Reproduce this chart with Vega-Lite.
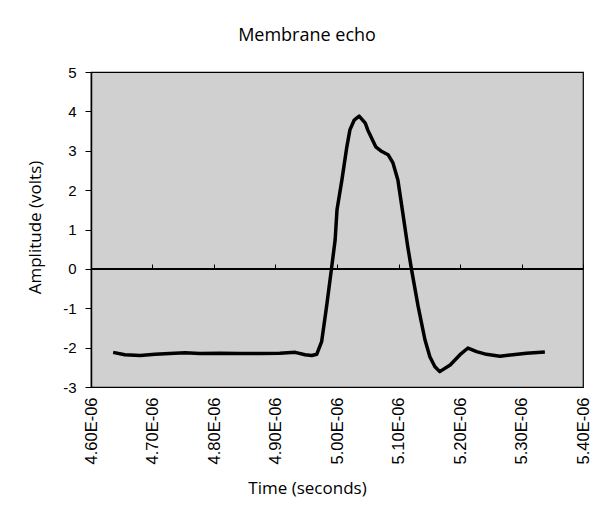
{
  "$schema": "https://vega.github.io/schema/vega-lite/v6.json",
  "width": 492,
  "height": 315,
  "autosize": {"type": "none"},
  "padding": {"left": 91, "top": 72, "right": 25, "bottom": 127},
  "background": "white",
  "title": {
    "text": "Membrane echo",
    "font": "Open Sans",
    "fontSize": 18,
    "fontWeight": "normal",
    "color": "black",
    "frame": "group",
    "anchor": "middle",
    "baseline": "alphabetic",
    "offset": 6,
    "dx": -30
  },
  "config": {
    "view": {"stroke": "black", "strokeWidth": 1.2, "fill": "#d0d0d0"},
    "axis": {"grid": false},
    "axisY": {
      "values": [-3, -2, -1, 0, 1, 2, 3, 4, 5],
      "labelExpr": "'' + datum.value",
      "labelOverlap": false,
      "labelFont": "Liberation Sans",
      "labelFontSize": 15,
      "labelColor": "black",
      "labelPadding": 9,
      "tickSize": 6,
      "tickColor": "black",
      "domainColor": "black",
      "domainWidth": 1.5,
      "titleFont": "Open Sans",
      "titleFontSize": 17,
      "titleFontWeight": "normal",
      "titleColor": "black",
      "titleX": -51,
      "titleY": 155,
      "titleBaseline": "alphabetic"
    }
  },
  "data": {
    "values": [
      {"time": 4.636e-6, "amplitude": -2.12},
      {"time": 4.655e-6, "amplitude": -2.18},
      {"time": 4.680e-6, "amplitude": -2.2},
      {"time": 4.704e-6, "amplitude": -2.17},
      {"time": 4.728e-6, "amplitude": -2.15},
      {"time": 4.753e-6, "amplitude": -2.13},
      {"time": 4.777e-6, "amplitude": -2.15},
      {"time": 4.810e-6, "amplitude": -2.14},
      {"time": 4.842e-6, "amplitude": -2.15},
      {"time": 4.875e-6, "amplitude": -2.15},
      {"time": 4.907e-6, "amplitude": -2.14},
      {"time": 4.932e-6, "amplitude": -2.12},
      {"time": 4.948e-6, "amplitude": -2.18},
      {"time": 4.959e-6, "amplitude": -2.2},
      {"time": 4.967e-6, "amplitude": -2.17},
      {"time": 4.975e-6, "amplitude": -1.85},
      {"time": 4.983e-6, "amplitude": -0.96},
      {"time": 4.991e-6, "amplitude": 0.0},
      {"time": 4.997e-6, "amplitude": 0.74},
      {"time": 5.000e-6, "amplitude": 1.5},
      {"time": 5.008e-6, "amplitude": 2.26},
      {"time": 5.016e-6, "amplitude": 3.1},
      {"time": 5.021e-6, "amplitude": 3.53},
      {"time": 5.028e-6, "amplitude": 3.78},
      {"time": 5.036e-6, "amplitude": 3.88},
      {"time": 5.046e-6, "amplitude": 3.7},
      {"time": 5.050e-6, "amplitude": 3.53},
      {"time": 5.063e-6, "amplitude": 3.1},
      {"time": 5.073e-6, "amplitude": 2.98},
      {"time": 5.083e-6, "amplitude": 2.9},
      {"time": 5.091e-6, "amplitude": 2.69},
      {"time": 5.099e-6, "amplitude": 2.26},
      {"time": 5.107e-6, "amplitude": 1.42},
      {"time": 5.115e-6, "amplitude": 0.57},
      {"time": 5.121e-6, "amplitude": 0.0},
      {"time": 5.132e-6, "amplitude": -0.96},
      {"time": 5.143e-6, "amplitude": -1.8},
      {"time": 5.151e-6, "amplitude": -2.23},
      {"time": 5.159e-6, "amplitude": -2.48},
      {"time": 5.167e-6, "amplitude": -2.61},
      {"time": 5.184e-6, "amplitude": -2.44},
      {"time": 5.200e-6, "amplitude": -2.18},
      {"time": 5.213e-6, "amplitude": -2.01},
      {"time": 5.227e-6, "amplitude": -2.1},
      {"time": 5.243e-6, "amplitude": -2.17},
      {"time": 5.265e-6, "amplitude": -2.22},
      {"time": 5.286e-6, "amplitude": -2.18},
      {"time": 5.308e-6, "amplitude": -2.14},
      {"time": 5.338e-6, "amplitude": -2.11}
    ]
  },
  "layer": [
    {
      "mark": {"type": "line", "color": "black", "strokeWidth": 3.5, "strokeJoin": "round"},
      "encoding": {
        "x": {
          "field": "time",
          "type": "quantitative",
          "scale": {"domain": [4.6e-6, 5.4e-6], "nice": false, "zero": false},
          "axis": {
            "orient": "bottom",
            "values": [4.6e-6, 4.7e-6, 4.8e-6, 4.9e-6, 5.0e-6, 5.1e-6, 5.2e-6, 5.3e-6, 5.4e-6],
            "labelExpr": "replace(upper(format(datum.value, '.2e')), 'E-6', 'E-06')",
            "labelAngle": -90,
            "labelFont": "Liberation Sans",
            "labelFontSize": 16.5,
            "labelColor": "black",
            "labelPadding": 10,
            "labelOverlap": false,
            "ticks": false,
            "domainColor": "black",
            "title": "Time (seconds)",
            "titleFont": "Open Sans",
            "titleFontSize": 17,
            "titleFontWeight": "normal",
            "titleColor": "black",
            "titleX": 216,
            "titleY": 106,
            "titleBaseline": "alphabetic",
            "titleAnchor": "middle"
          }
        },
        "y": {
          "field": "amplitude",
          "type": "quantitative",
          "scale": {"domain": [-3, 5], "nice": false, "zero": false},
          "axis": {
            "title": "Amplitude (volts)",
            "values": [-3, -2, -1, 0, 1, 2, 3, 4, 5],
            "tickCount": 9
          }
        }
      }
    },
    {
      "mark": {"type": "rule", "color": "black", "strokeWidth": 1.5},
      "encoding": {
        "x": {
          "datum": 4.6e-6,
          "type": "quantitative",
          "axis": {
            "orient": "top",
            "offset": -197,
            "values": [4.6e-6, 4.7e-6, 4.8e-6, 4.9e-6, 5.0e-6, 5.1e-6, 5.2e-6, 5.3e-6, 5.4e-6],
            "labels": false,
            "domain": false,
            "ticks": true,
            "tickSize": 5,
            "tickColor": "black",
            "tickWidth": 1,
            "title": null
          }
        },
        "x2": {"datum": 5.4e-6},
        "y": {
          "datum": 0,
          "type": "quantitative",
          "axis": {
            "title": "Amplitude (volts)",
            "values": [-3, -2, -1, 0, 1, 2, 3, 4, 5],
            "tickCount": 9
          }
        }
      }
    }
  ],
  "resolve": {"axis": {"x": "independent"}}
}
